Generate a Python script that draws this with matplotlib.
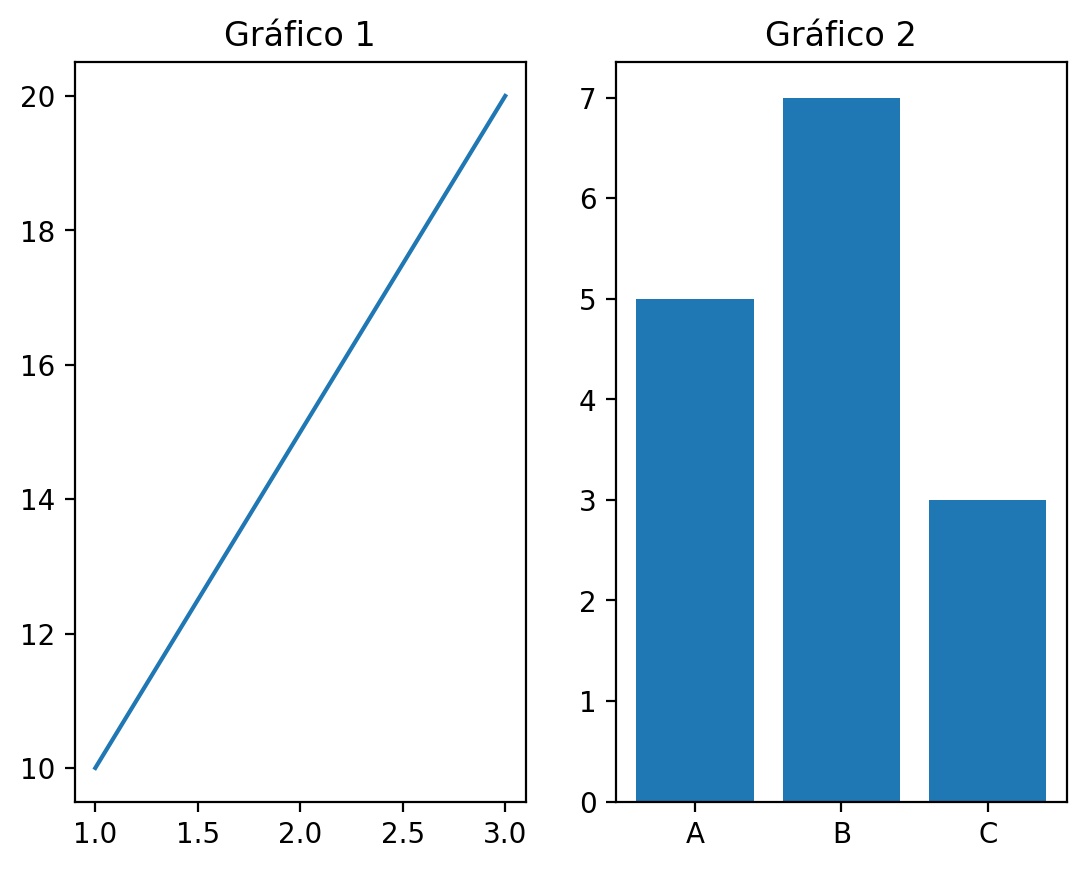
import matplotlib
matplotlib.use('Agg')
import matplotlib.pyplot as plt

x = [1, 2, 3]
y = [10, 15, 20]

categorias = ['A', 'B', 'C']
valores = [5, 7, 3]

fig, (ax1, ax2) = plt.subplots(1, 2)

ax1.plot(x, y)
ax1.set_title("Gráfico 1")

ax2.bar(categorias, valores)
ax2.set_title("Gráfico 2")

plt.savefig('out.png', dpi=200, bbox_inches='tight')
